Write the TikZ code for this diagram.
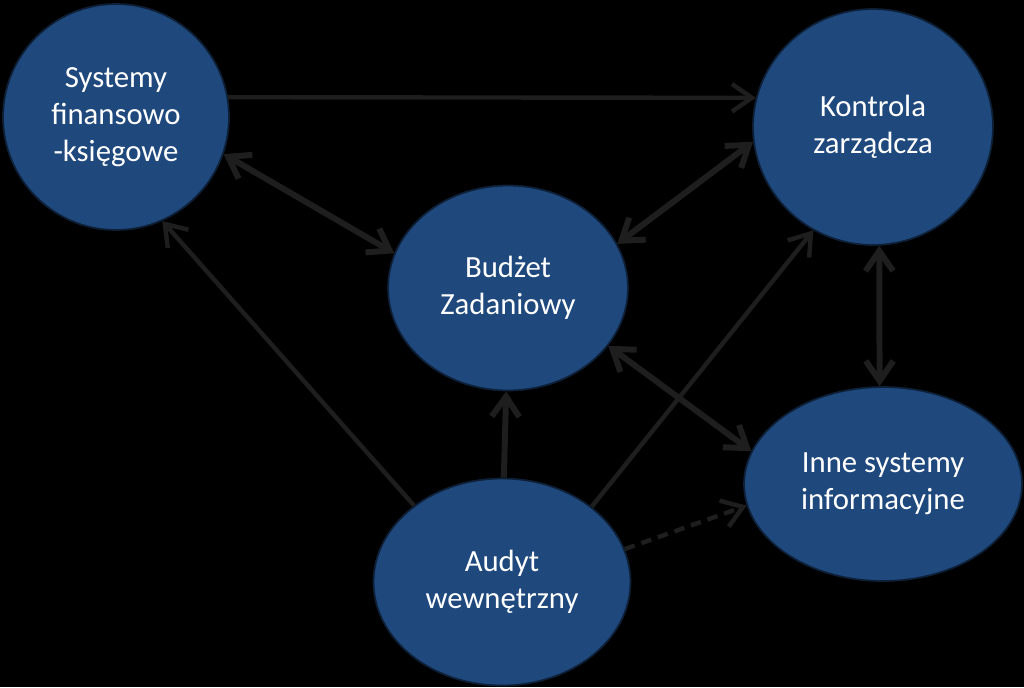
\documentclass[tikz,border=0pt]{standalone}
\usepackage{fontspec}
\setmainfont{Carlito}
\usepackage{xcolor}
\usepackage{tikz}
\usetikzlibrary{arrows.meta, shapes.geometric, positioning}

\definecolor{granat}{RGB}{31,73,125}
\definecolor{obrys}{RGB}{14,32,56}
\definecolor{szary}{RGB}{30,30,30}

\tikzset{
    pole/.style={ellipse, fill=granat, draw=obrys, line width=1pt, text=white,
        align=center, inner sep=0pt, font=\fontsize{17.5}{21}\selectfont},
    gruba/.style={draw=szary, line width=3.4pt},
    cienka/.style={draw=szary, line width=2.5pt},
}

\begin{document}
\begin{tikzpicture}[x=0.02cm, y=-0.02cm, >={Straight Barb[length=4mm, width=5.5mm]}]

    % =================================================================
    % 1. TLO I RAMKA RYSUNKU
    % =================================================================
    \useasboundingbox (0,0) rectangle (1024,687);
    \fill[black] (0,0) rectangle (1024,687);

    % =================================================================
    % 2. POLA (ELIPSY)
    % =================================================================
    \node[pole, minimum width=4.52cm, minimum height=4.52cm] (fin) at (116,117) {Systemy\\finansowo\\-księgowe};
    \node[pole, minimum width=4.80cm, minimum height=4.72cm] (kon) at (873,127) {Kontrola\\zarządcza};
    \node[pole, minimum width=4.80cm, minimum height=4.10cm] (bud) at (508,288) {Budżet\\Zadaniowy};
    \node[pole, minimum width=5.56cm, minimum height=3.88cm] (inn) at (883,484) {Inne systemy\\informacyjne};
    \node[pole, minimum width=5.14cm, minimum height=4.14cm] (aud) at (502,582) {Audyt\\wewnętrzny};

    % =================================================================
    % 3. STRZALKI MIEDZY POLAMI
    % =================================================================
    % jednokierunkowe
    \draw[cienka, ->] (fin.10) -- (kon.166);
    \draw[cienka, ->] (aud.139) -- (fin.-66);
    \draw[cienka, ->] (aud.40) -- (kon.240);
    \draw[gruba, ->] (aud.89) -- (bud.-91);
    \draw[cienka, ->, dash pattern=on 6pt off 4pt] (aud.15) -- (inn.189);

    % dwukierunkowe
    \draw[gruba, <->] (fin.-19) -- (bud.163);
    \draw[gruba, <->] (bud.22) -- (kon.187);
    \draw[gruba, <->] (bud.-30) -- (inn.166);
    \draw[gruba, <->] (kon.-87) -- (inn.92);

\end{tikzpicture}
\end{document}
